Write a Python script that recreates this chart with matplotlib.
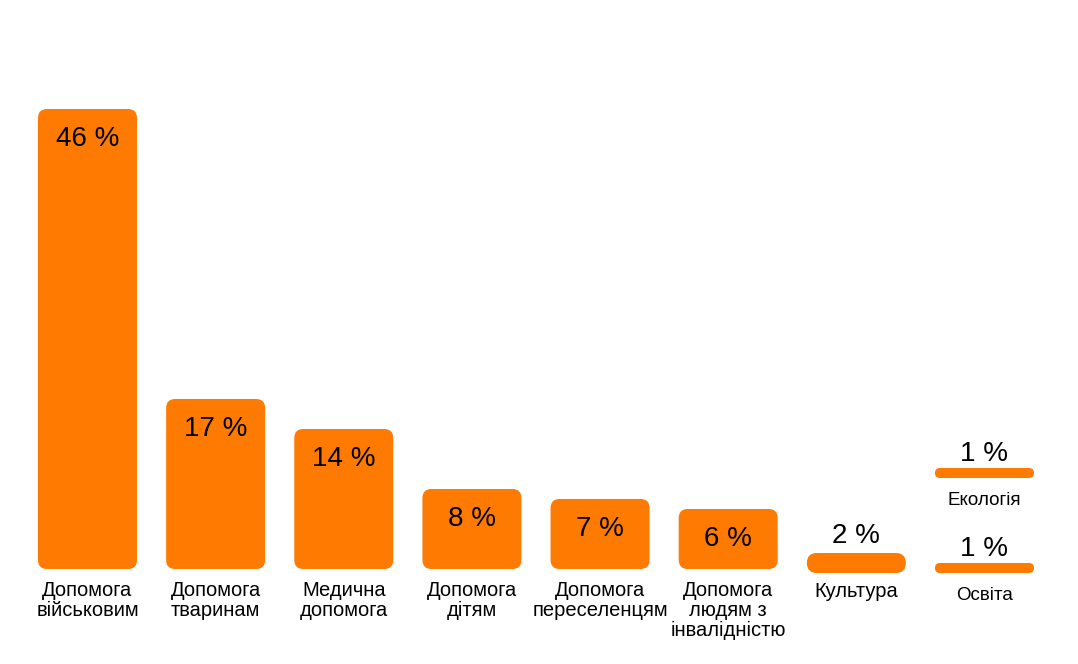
import matplotlib.pyplot as plt
from matplotlib.patches import FancyBboxPatch

plt.rcParams['font.family'] = ['Liberation Sans', 'DejaVu Sans']

# data
categories = ["Допомога\nвійськовим", "Допомога\nтваринам", "Медична\nдопомога",
              "Допомога\nдітям", "Допомога\nпереселенцям",
              "Допомога\nлюдям з\nінвалідністю", "Культура"]
values = [46, 17, 14, 8, 7, 6, 2]
small_labels = ["Екологія", "Освіта"]
small_values = [1, 1]

ORANGE = "#ff7a00"
PX_X = 128.14   # pixels per category step
PX_Y = 10.0     # pixels per percent
ASPECT = PX_X / PX_Y
WIDTH = 99 / PX_X

fig = plt.figure(figsize=(10.78, 6.64), dpi=100)
ax = fig.add_axes([0, 0, 1, 1])
ax.axis('off')
ax.set_xlim(-87.5 / PX_X, (1078 - 87.5) / PX_X)
ax.set_ylim(-95 / PX_Y, 569 / PX_Y)


def rounded_bar(x, bottom, height, radius_px):
    r = radius_px / PX_X
    p = FancyBboxPatch((x - WIDTH / 2, bottom), WIDTH, height,
                       boxstyle=f"round,pad=0,rounding_size={r}",
                       mutation_aspect=ASPECT, fc=ORANGE, ec='none')
    ax.add_patch(p)


for i, (cat, v) in enumerate(zip(categories, values)):
    if v > 2:
        rounded_bar(i, 0, v, 9)
        ax.text(i, v - 3.0, f"{v} %", ha='center', va='center', fontsize=20)
        ax.text(i, -1.25, cat, ha='center', va='top', fontsize=14.5, linespacing=1.05)
    else:
        rounded_bar(i, -0.4, v, v * PX_Y / 2)
        ax.text(i, 2.6, f"{v} %", ha='center', va='baseline', fontsize=20)
        ax.text(i, -1.3, cat, ha='center', va='top', fontsize=14.5)

# last column: two thin bars stacked
x = len(categories)
bottoms = [9.1, -0.4]
for lab, v, b in zip(small_labels, small_values, bottoms):
    rounded_bar(x, b, v, v * PX_Y / 2)
    ax.text(x, b + 1.7, f"{v} %", ha='center', va='baseline', fontsize=20)
    ax.text(x, b - 1.4, lab, ha='center', va='top', fontsize=13.5)

fig.savefig("out.png", dpi=100)
